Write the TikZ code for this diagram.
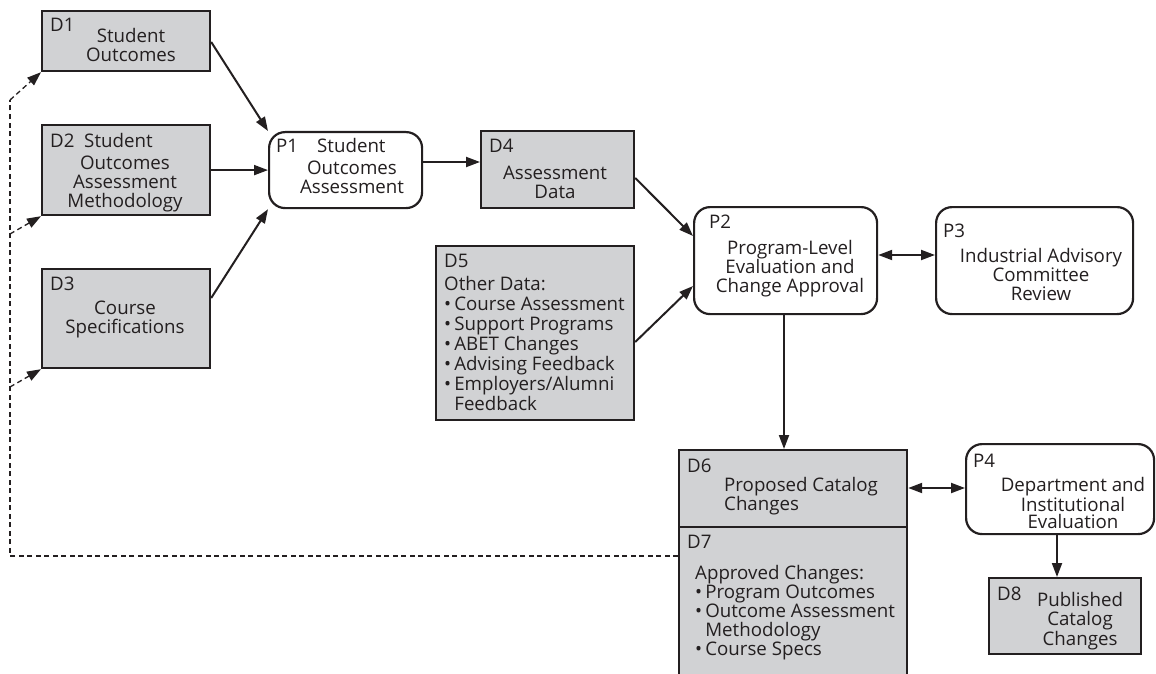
\documentclass[tikz,border=0pt]{standalone}
\usepackage{fontspec}
\setmainfont{Open Sans}
\usetikzlibrary{arrows.meta}
\definecolor{boxgray}{HTML}{D1D2D4}
\definecolor{ink}{HTML}{231F20}
\tikzset{
  x=1pt, y=-1pt,
  dbox/.style={draw=ink, fill=boxgray, line width=2.2pt, inner sep=0pt, anchor=north west},
  pbox/.style={draw=ink, fill=white, line width=2.2pt, rounded corners=16pt, inner sep=0pt, anchor=north west},
  txt/.style={font=\fontsize{18.7}{19}\selectfont, text=ink, inner sep=0pt, anchor=base, align=center},
  ltxt/.style={txt, align=left, anchor=base west},
  arr/.style={draw=ink, line width=2pt, -{Triangle[length=14pt,width=10pt]}},
  darr/.style={draw=ink, line width=2pt, {Triangle[length=14pt,width=10pt]}-{Triangle[length=14pt,width=10pt]}},
  dashln/.style={draw=ink, line width=1.3pt, dash pattern=on 5pt off 3.5pt},
  dasharr/.style={dashln, -{Triangle[length=14pt,width=10pt]}},
}
\begin{document}
\begin{tikzpicture}
\useasboundingbox (0,0) rectangle (1156,674);
% boxes
\node[dbox, minimum width=168pt, minimum height=60pt] (D1) at (41,10) {};
\node[dbox, minimum width=168pt, minimum height=90pt] (D2) at (41,124) {};
\node[dbox, minimum width=168pt, minimum height=99pt] (D3) at (41,268) {};
\node[pbox, minimum width=153pt, minimum height=76pt] (P1) at (268,131) {};
\node[dbox, minimum width=153pt, minimum height=77pt] (D4) at (480,130) {};
\node[dbox, minimum width=198pt, minimum height=174pt] (D5) at (435,245) {};
\node[pbox, minimum width=183pt, minimum height=107pt] (P2) at (693,206) {};
\node[pbox, minimum width=197pt, minimum height=107pt] (P3) at (935,206) {};
\node[dbox, minimum width=228pt, minimum height=77pt] (D6) at (678,449) {};
\node[dbox, minimum width=228pt, minimum height=160pt] (D7) at (678,526) {};
\node[pbox, minimum width=188pt, minimum height=90pt] (P4) at (965,443) {};
\node[dbox, minimum width=152pt, minimum height=76pt] (D8) at (988,577) {};
% texts (multi-line nodes are anchored at the baseline of their last line)
\node[ltxt] (t1a) at (50,32) {D1};
\node[txt] (t1) at (131,62) {Student\\Outcomes};
\node[ltxt] (t2a) at (50,147) {D2\ \ Student};
\node[txt] (t2) at (125,207) {Outcomes\\Assessment\\Methodology};
\node[ltxt] (t3a) at (50,290) {D3};
\node[txt] (t3) at (125,333) {Course\\Specifications};
\node[ltxt] (tp1a) at (276,153) {P1};
\node[ltxt] (tp1b) at (317,153) {Student};
\node[txt] (tp1) at (352,193) {Outcomes\\Assessment};
\node[ltxt] (t4a) at (489,153) {D4};
\node[txt] (t4) at (555,198) {Assessment\\Data};
\node[ltxt] (t5a) at (444,267) {D5};
\node[ltxt, font=\fontsize{18.7}{20}\selectfont] (t5) at (444,410) {Other Data:\\\textbullet\,Course Assessment\\\textbullet\,Support Programs\\\textbullet\,ABET Changes\\\textbullet\,Advising Feedback\\\textbullet\,Employers/Alumni\\\hphantom{\textbullet\,}Feedback};
\node[ltxt] (tp2a) at (709,228) {P2};
\node[txt] (tp2) at (790,292) {Program-Level\\Evaluation and\\Change Approval};
\node[ltxt] (tp3a) at (943,237) {P3};
\node[txt] (tp3) at (1041,300) {Industrial Advisory\\Committee\\Review};
\node[ltxt] (t6a) at (687,472) {D6};
\node[ltxt] (t6) at (724,510) {Proposed Catalog\\Changes};
\node[ltxt] (t7a) at (687,548) {D7};
\node[ltxt] (t7) at (695,655) {Approved Changes:\\\textbullet\,Program Outcomes\\\textbullet\,Outcome Assessment\\\hphantom{\textbullet\,}Methodology\\\textbullet\,Course Specs};
\node[ltxt] (tp4a) at (973,467) {P4};
\node[txt, font=\fontsize{18.7}{17}\selectfont] (tp4) at (1073,528) {Department and\\Institutional\\Evaluation};
\node[ltxt] (t8a) at (997,600) {D8};
\node[txt, font=\fontsize{18.7}{18.5}\selectfont] (t8) at (1080,645) {Published\\Catalog\\Changes};
% connectors
\draw[arr] (D1.north east |- 0,42) coordinate (c1) -- (P1.north west);
\draw[arr] (D2.east) -- (D2.east -| P1.west);
\draw[arr] (D3.east |- 0,298) coordinate (c3) -- (P1.south west);
\draw[arr] (P1.east |- 0,162) coordinate (c4) -- (D4.west |- 0,162);
\draw[arr] (D4.east |- 0,178) coordinate (c5) -- (P2.west |- 0,236);
\draw[arr] (D5.east |- 0,342) coordinate (c6) -- (P2.west |- 0,286);
\draw[darr] (P2.east |- 0,255) -- (P3.west |- 0,255);
\draw[arr] (P2.south -| 784,0) -- (D6.north -| 784,0);
\draw[darr] (D6.east |- 0,488) -- (P4.west |- 0,488);
\draw[arr] (P4.south -| 1057,0) -- (D8.north -| 1057,0);
% feedback dashed
\coordinate (fb0) at (10,556);
\coordinate (fb1) at (10,100);
\coordinate (fb2) at (10,234);
\coordinate (fb3) at (10,387);
\draw[dashln] (D7.west |- fb0) -- (fb0) -- (fb1);
\draw[dasharr] (fb1) -- (D1.south west);
\draw[dasharr] (fb2) -- (D2.south west);
\draw[dasharr] (fb3) -- (D3.south west);
\end{tikzpicture}
\end{document}
